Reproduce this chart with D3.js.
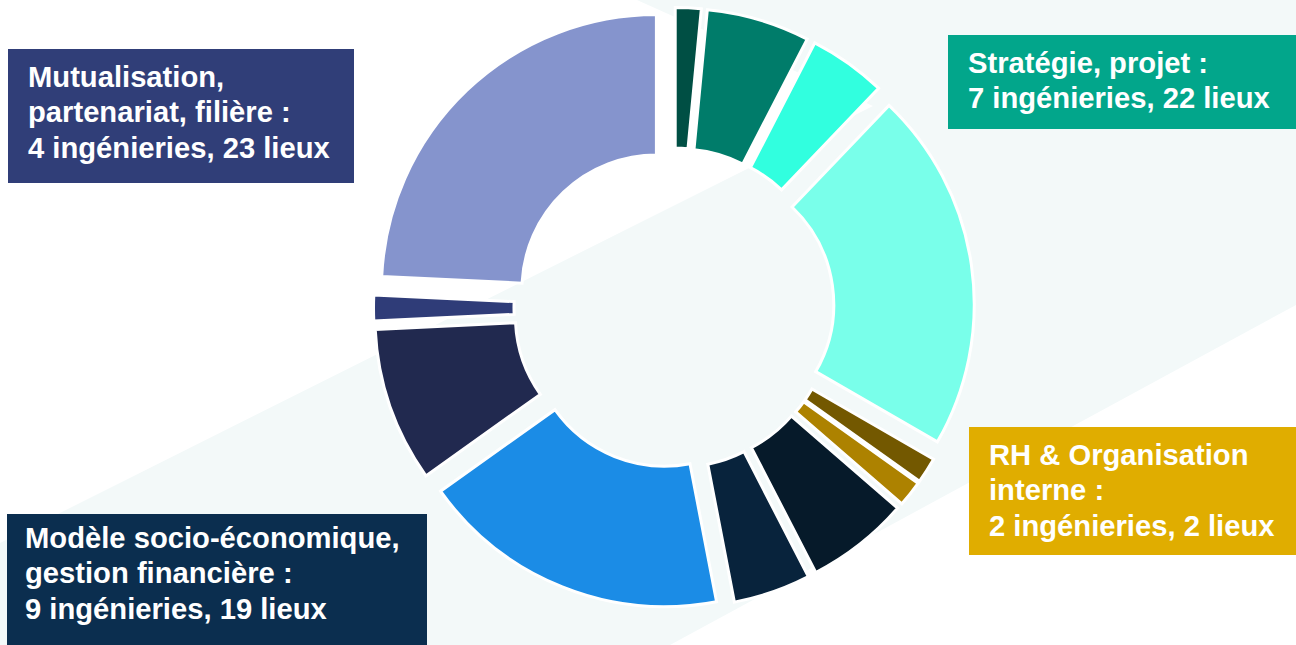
<!DOCTYPE html>
<html>
<head>
<meta charset="utf-8">
<script src="https://cdn.jsdelivr.net/npm/d3@7"></script>
<style>
  html, body { margin: 0; padding: 0; background: #fff; }
  svg { display: block; }
</style>
</head>
<body>
<div id="chart"></div>
<script>
// Lieux per ingénierie slice, clockwise from 12 o'clock
const sliceLieux = [1, 4, 3, 14, 1, 1, 4, 3, 12, 6, 1, 16];
const sliceColors = ['#004f44', '#007c6a', '#31ffdf', '#79ffea',
                     '#735800', '#ad8200',
                     '#061a2a', '#08233c', '#1b8ce6',
                     '#21294f', '#2f3c78', '#8594cd'];

const labelLines = [
    ['Mutualisation,', 'partenariat, filière :', '4 ingénieries, 23 lieux'],
    ['Stratégie, projet :', '7 ingénieries, 22 lieux'],
    ['RH & Organisation', 'interne :', '2 ingénieries, 2 lieux'],
    ['Modèle socio-économique,', 'gestion financière :', '9 ingénieries, 19 lieux']
];
const labelColors = ['#303e78', '#02a68b', '#e0ad00', '#0b2e4f'];

const width = 1296, height = 645;
const cx = 674, cy = 308;
const outerR = 275, innerR = 134.5, explode = 25.5;

const svg = d3.select('#chart').append('svg')
    .attr('width', width)
    .attr('height', height);

// light diagonal band behind the donut
const band = [[637, 0], [1296, 0], [1296, 305], [670, 645], [0, 645], [0, 543], [873, 106]];
svg.append('path')
    .attr('d', d3.line()(band) + 'Z')
    .attr('fill', '#f3f9f9');

const pie = d3.pie().sort(null).value(d => d);
const arc = d3.arc().innerRadius(innerR).outerRadius(outerR);

const g = svg.append('g').attr('transform', `translate(${cx},${cy})`);

g.selectAll('path.slice')
    .data(pie(sliceLieux))
    .enter()
    .append('path')
    .attr('class', 'slice')
    .attr('transform', d => {
        const a = (d.startAngle + d.endAngle) / 2;
        return `translate(${Math.sin(a) * explode},${-Math.cos(a) * explode})`;
    })
    .attr('d', arc)
    .attr('fill', (d, i) => sliceColors[i])
    .attr('stroke', '#fff')
    .attr('stroke-width', 3)
    .attr('stroke-linejoin', 'miter');

// label boxes
const boxes = [
    {x: 8, y: 49, w: 346, h: 134, tx: 28, ty: 87},
    {x: 948, y: 35, w: 348, h: 94, tx: 968, ty: 73},
    {x: 969, y: 427, w: 327, h: 128, tx: 989, ty: 465},
    {x: 7, y: 514, w: 420, h: 131, tx: 25, ty: 548}
];

boxes.forEach((b, i) => {
    svg.append('rect')
        .attr('x', b.x).attr('y', b.y)
        .attr('width', b.w).attr('height', b.h)
        .attr('fill', labelColors[i]);

    const t = svg.append('text')
        .attr('fill', '#fff')
        .style('font-family', '"Liberation Sans", Arial, sans-serif')
        .style('font-weight', 'bold')
        .style('font-size', '29.2px');

    labelLines[i].forEach((line, j) => {
        t.append('tspan')
            .attr('x', b.tx)
            .attr('y', b.ty + j * 35.3)
            .text(line);
    });
});
</script>
</body>
</html>
